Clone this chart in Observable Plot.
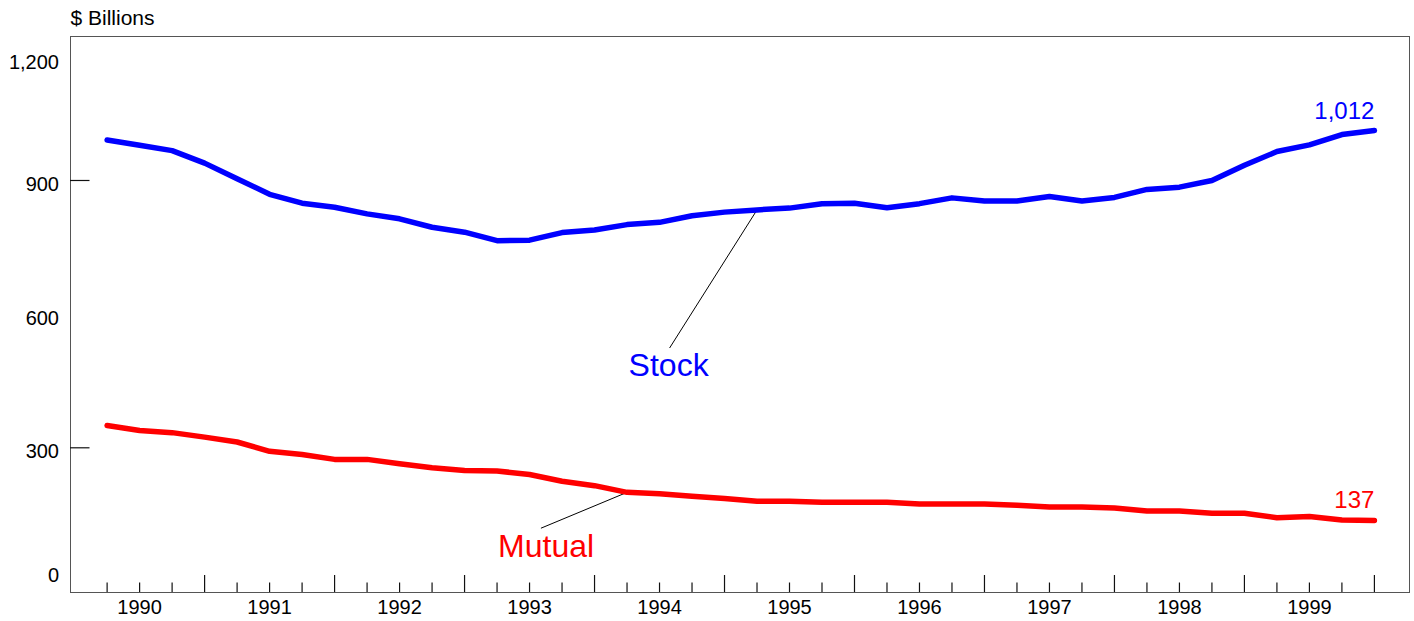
<!DOCTYPE html>
<html>
<head>
<meta charset="utf-8">
<script src="https://cdn.jsdelivr.net/npm/d3@7"></script>
<script src="https://cdn.jsdelivr.net/npm/@observablehq/plot@0.6"></script>
<style>
  html, body { margin: 0; padding: 0; background: #fff; }
</style>
</head>
<body>
<div id="chart"></div>
<script>
// ---- data ----
const years = [1990, 1991, 1992, 1993, 1994, 1995, 1996, 1997, 1998, 1999];
const quarters = years.flatMap(y => ["Q1", "Q2", "Q3", "Q4"].map(q => `${y} ${q}`));
const stock = [991, 979, 967, 939, 904, 869, 849, 840, 825, 814,
               795, 784, 765, 766, 783, 789, 801, 806, 821, 829,
               834, 838, 848, 849, 839, 848, 861, 854, 854, 864,
               854, 862, 880, 885, 900, 934, 965, 980, 1003, 1012];
const mutual = [350, 339, 334, 324, 313, 292, 285, 274, 274, 264,
                255, 249, 248, 240, 225, 215, 200, 197, 191, 186,
                180, 180, 178, 178, 178, 174, 174, 174, 171, 167,
                167, 165, 158, 158, 153, 153, 143, 146, 138, 137];
const seriesNames = ["Stock", "Mutual"];
const seriesColors = ["#0000ff", "#ff0000"];
const yLabelValues = [0, 300, 600, 900, 1200];
const yTickValues = [300, 900];
const unitLabel = "$ Billions";
// annotation anchors (quarter index, value)
const nameLabelAt = [{x: 17.28, y: 462}, {x: 13.51, y: 56}];
const leaderFootAt = [{x: 17.31, y: 524}, {x: 13.35, y: 119.5}];
const leaderToIndex = [20, 16];

// ---- derived tables ----
const seriesValues = [stock, mutual];
const rows = seriesNames.flatMap((name, s) =>
  seriesValues[s].map((v, i) => ({series: name, i, quarter: quarters[i], v})));
const lastRows = seriesNames.map((name, s) => ({series: name, i: quarters.length - 1, v: seriesValues[s][quarters.length - 1]}));
const nameLabels = seriesNames.map((name, s) => ({series: name, ...nameLabelAt[s]}));
const leaders = seriesNames.map((name, s) => ({
  series: name,
  x1: leaderFootAt[s].x, y1: leaderFootAt[s].y,
  x2: leaderToIndex[s], y2: seriesValues[s][leaderToIndex[s]]
}));
const idx = quarters.map((q, i) => i);
const majorIdx = idx.filter(i => i % 4 === 3);
const minorIdx = idx.filter(i => i % 4 !== 3);
const yearRows = years.map((y, k) => ({i: k * 4 + 1, year: String(y)}));
const colorOf = name => seriesColors[seriesNames.indexOf(name)];

// ---- layout ----
const W = 1414, H = 621, mL = 70, mR = 5, mT = 36, mB = 29;
const frameW = W - mL - mR, frameH = H - mT - mB;
const fmt = d3.format(",");
const font = "'Liberation Sans', Arial, Helvetica, sans-serif";

const chart = Plot.plot({
  width: W,
  height: H,
  marginLeft: mL,
  marginRight: mR,
  marginTop: mT,
  marginBottom: mB,
  style: {fontFamily: font, background: "#fff", overflow: "visible"},
  x: {domain: [-1.127, 40.08], axis: null},
  y: {domain: [-24.8, 1223.2], axis: null},
  marks: [
    Plot.frame({stroke: "#555", strokeWidth: 1}),
    // x ticks
    Plot.tickX(minorIdx, {x: d => d, insetTop: frameH - 9.5, stroke: "#111", strokeWidth: 1.2}),
    Plot.tickX(majorIdx, {x: d => d, insetTop: frameH - 17, stroke: "#111", strokeWidth: 1.2}),
    // y ticks
    Plot.tickY(yTickValues, {y: d => d, insetRight: frameW - 19.5, stroke: "#111", strokeWidth: 1.2}),
    // y labels
    Plot.text(yLabelValues.filter(v => v !== 0 && v !== 1200), {y: d => d, text: d => fmt(d), frameAnchor: "left", textAnchor: "end", dx: -11.5, dy: 4, fontSize: 20, fill: "#000"}),
    Plot.text(yLabelValues.filter(v => v === 1200), {y: d => d, text: d => fmt(d), frameAnchor: "left", textAnchor: "end", dx: -11.5, dy: 15.5, fontSize: 20, fill: "#000"}),
    Plot.text(yLabelValues.filter(v => v === 0), {y: d => d, text: d => fmt(d), frameAnchor: "left", textAnchor: "end", dx: -11.5, dy: -6, fontSize: 20, fill: "#000"}),
    // year labels
    Plot.text(yearRows, {x: "i", text: "year", frameAnchor: "bottom", lineAnchor: "middle", dy: 15, fontSize: 20, fill: "#000"}),
    // unit label
    Plot.text([unitLabel], {frameAnchor: "top-left", textAnchor: "start", lineAnchor: "bottom", dy: -11.5, fontSize: 21, fill: "#000"}),
    // leader lines
    Plot.link(leaders, {x1: "x1", y1: "y1", x2: "x2", y2: "y2", stroke: "#000", strokeWidth: 1}),
    // series lines
    ...seriesNames.map(name => Plot.line(rows.filter(r => r.series === name), {
      x: "i", y: "v", stroke: colorOf(name), strokeWidth: 5.5, strokeLinecap: "round", strokeLinejoin: "round"
    })),
    // series name labels
    ...nameLabels.map(d => Plot.text([d], {x: "x", y: "y", text: "series", textAnchor: "middle", lineAnchor: "bottom", fontSize: 32, fill: colorOf(d.series)})),
    // end value labels
    ...lastRows.map(d => Plot.text([d], {x: "i", y: "v", text: r => fmt(r.v), textAnchor: "end", lineAnchor: "bottom", dy: -12, fontSize: 24, fill: colorOf(d.series)}))
  ]
});

document.getElementById("chart").appendChild(chart);
</script>
</body>
</html>
